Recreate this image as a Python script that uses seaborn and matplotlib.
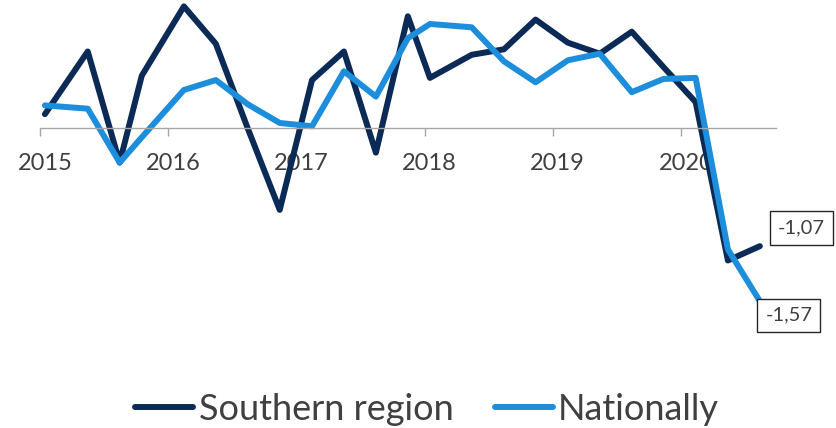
import pandas as pd
import seaborn as sns
import matplotlib.pyplot as plt
import matplotlib.dates as mdates
from matplotlib.transforms import ScaledTranslation

# Data
dates = ["2015-01-15", "2015-05-17", "2015-08-16", "2015-10-18", "2016-02-15",
         "2016-05-16", "2016-08-15", "2016-11-14", "2017-02-14", "2017-05-16",
         "2017-08-15", "2017-11-14", "2018-01-16", "2018-05-15", "2018-08-15",
         "2018-11-13", "2019-02-13", "2019-05-15", "2019-08-14", "2019-11-12",
         "2020-02-12", "2020-05-14", "2020-08-13"]
southern = [0.13, 0.70, -0.31, 0.48, 1.11, 0.77, 0.00, -0.74, 0.44, 0.70,
            -0.22, 1.02, 0.46, 0.67, 0.72, 0.99, 0.78, 0.68, 0.88, 0.56,
            0.24, -1.20, -1.07]
national = [0.21, 0.18, -0.31, -0.08, 0.35, 0.44, 0.22, 0.05, 0.02, 0.52,
            0.29, 0.82, 0.95, 0.92, 0.61, 0.42, 0.62, 0.68, 0.33, 0.45,
            0.46, -1.10, -1.57]
series_names = ["Southern region", "Nationally"]
colors = ["#0B2A56", "#1D8EDB"]
years = [2015, 2016, 2017, 2018, 2019, 2020]

df = pd.DataFrame({"date": pd.to_datetime(dates), "Southern region": southern, "Nationally": national})
long_df = df.melt(id_vars="date", var_name="series", value_name="value")

sns.set_style("white")
plt.rcParams["font.family"] = ["Lato", "DejaVu Sans"]

fig = plt.figure(figsize=(8.36, 4.28), dpi=100)
ax = fig.add_axes([40 / 836, 1 - 340 / 428, 736 / 836, 340 / 428])

sns.lineplot(data=long_df, x="date", y="value", hue="series", hue_order=series_names,
             palette=colors, linewidth=4.3, ax=ax, legend=False, clip_on=False)

ax.set_xlim(pd.Timestamp("2015-01-01"), pd.Timestamp("2020-09-28"))
ax.set_ylim(-1.923, 1.168)

# axis styling: only a grey line at zero with year ticks
for side in ["top", "right", "left"]:
    ax.spines[side].set_visible(False)
ax.spines["bottom"].set_position(("data", 0))
ax.spines["bottom"].set_color("#A6A6A6")
ax.spines["bottom"].set_linewidth(1.0)
ax.set_yticks([])
ax.set_xticks([pd.Timestamp(f"{y}-01-01") for y in years])
ax.xaxis.set_major_formatter(mdates.DateFormatter("%Y"))
ax.tick_params(axis="x", bottom=True, direction="out", length=5.5, width=1.0, color="#A6A6A6",
               labelsize=17, labelcolor="#404040", pad=12)
offset = ScaledTranslation(5 / 100, 0, fig.dpi_scale_trans)
for lbl in ax.get_xticklabels():
    lbl.set_transform(lbl.get_transform() + offset)
ax.set_xlabel("")
ax.set_ylabel("")

# end-point data labels
box = dict(boxstyle="square,pad=0.4", fc="white", ec="#262626", lw=1.0)
last_date = df["date"].iloc[-1]
ax.annotate(f"{southern[-1]:.2f}".replace(".", ","), (last_date, southern[-1]),
            xytext=(13, 7), textcoords="offset points", ha="left", va="bottom",
            fontsize=14.5, color="#404040", bbox=box)
ax.annotate(f"{national[-1]:.2f}".replace(".", ","), (last_date, national[-1]),
            xytext=(4, -4), textcoords="offset points", ha="left", va="top",
            fontsize=14.5, color="#404040", bbox=box)

handles = [plt.Line2D([], [], color=c, lw=4.3, solid_capstyle="round") for c in colors]
fig.legend(handles, series_names, loc="center", bbox_to_anchor=(0.511, 0.044), ncol=2,
           frameon=False, fontsize=26, labelcolor="#404040", handlelength=1.6,
           handletextpad=0.15, columnspacing=1.15, borderpad=0)

fig.savefig("out.png", dpi=100)
